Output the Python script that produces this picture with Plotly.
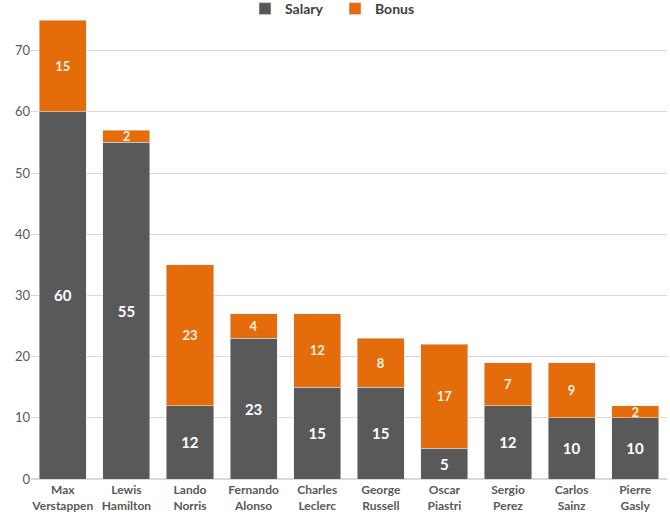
import plotly.graph_objects as go

drivers = ["Max<br>Verstappen", "Lewis<br>Hamilton", "Lando<br>Norris", "Fernando<br>Alonso",
           "Charles<br>Leclerc", "George<br>Russell", "Oscar<br>Piastri", "Sergio<br>Perez",
           "Carlos<br>Sainz", "Pierre<br>Gasly"]
salary = [60, 55, 12, 23, 15, 15, 5, 12, 10, 10]
bonus = [15, 2, 23, 4, 12, 8, 17, 7, 9, 2]

FONT = "Lato"
fig = go.Figure()
fig.add_trace(go.Bar(
    x=drivers, y=salary, name="Salary", marker_color="#595959",
    text=salary, textposition="inside", insidetextanchor="middle", textangle=0,
    constraintext="none", cliponaxis=False,
    textfont=dict(color="white", size=15, family=FONT, weight="bold"),
))
fig.add_trace(go.Bar(
    x=drivers, y=bonus, name="Bonus", marker_color="#E46C0A",
    text=bonus, textposition="inside", insidetextanchor="middle", textangle=0,
    constraintext="none", cliponaxis=False,
    textfont=dict(color="#FFF2E0", size=13, family=FONT, weight="bold"),
))
fig.update_layout(
    barmode="stack", bargap=0.26,
    width=670, height=524,
    margin=dict(l=31, r=3, t=20, b=45, autoexpand=False),
    paper_bgcolor="white", plot_bgcolor="white",
    font=dict(family=FONT, color="#595959"),
    legend=dict(orientation="h", x=0.5, xanchor="center", xref="container",
                y=1.024, yanchor="middle", yref="paper",
                font=dict(size=14, color="#404040", weight="bold"),
                itemwidth=30, traceorder="normal", entrywidthmode="pixels", entrywidth=45),
    xaxis=dict(tickfont=dict(size=12, color="#595959", weight="bold"), showline=False,
               ticks="", automargin=False, ticklabelstandoff=2),
    yaxis=dict(range=[0, 75], tick0=0, dtick=10, showgrid=True, gridcolor="#D9D9D9",
               gridwidth=1, zeroline=True, zerolinecolor="#D9D9D9", automargin=False,
               tickfont=dict(size=13, color="#595959"), ticks=""),
)
fig.write_html("out.html", config={"displayModeBar": False},
               post_script="document.body.style.margin='0';document.body.style.overflow='hidden';")
